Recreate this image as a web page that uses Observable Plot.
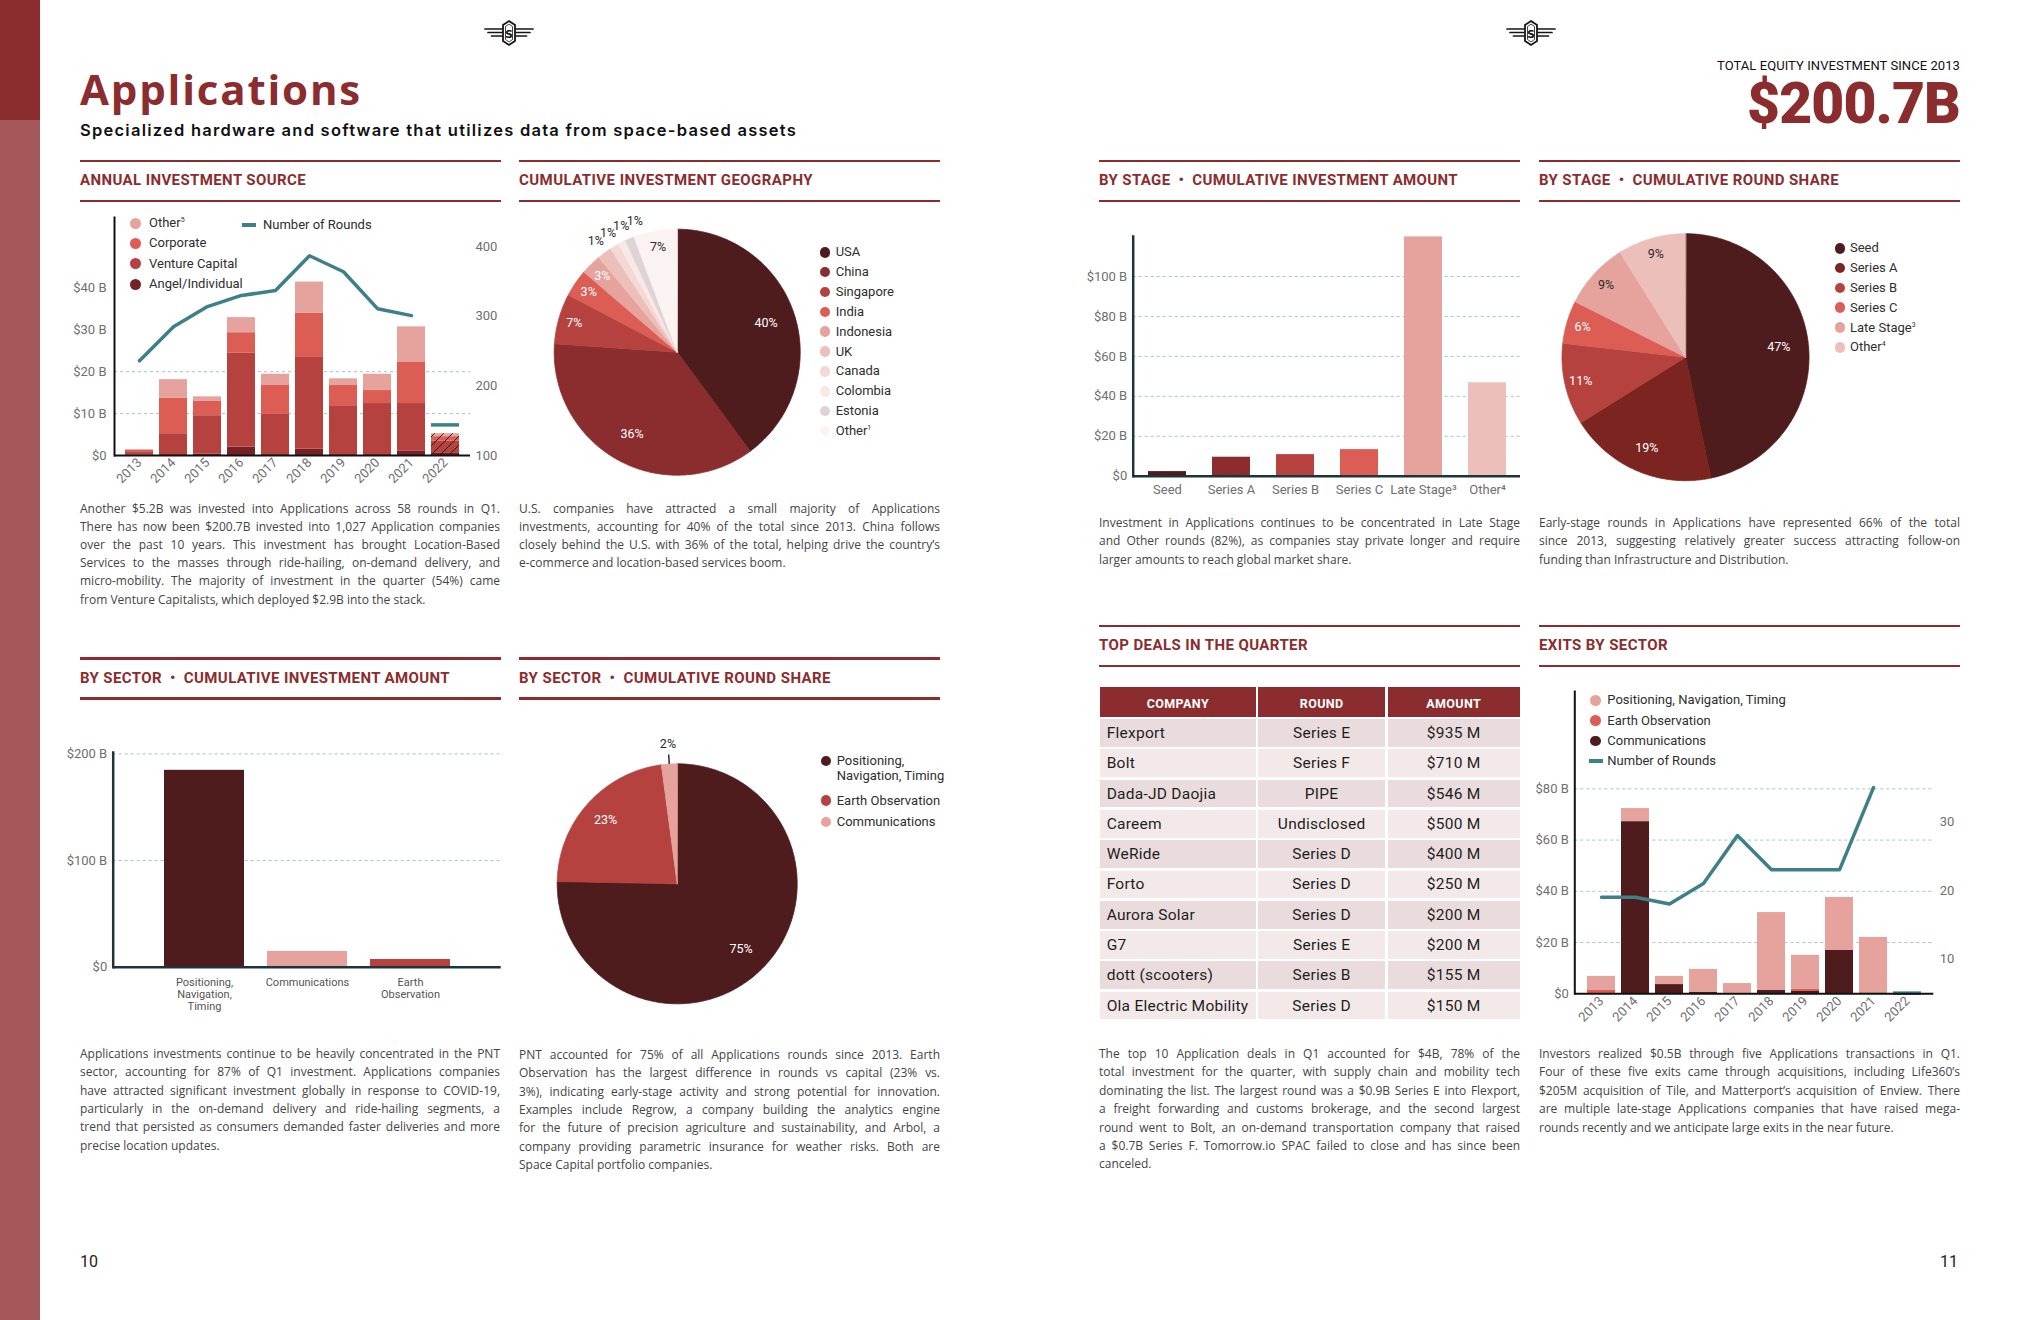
<!DOCTYPE html>
<html><head><meta charset="utf-8">
<script src="https://cdn.jsdelivr.net/npm/d3@7"></script>
<script src="https://cdn.jsdelivr.net/npm/@observablehq/plot@0.6"></script>
<style>
html,body{margin:0;padding:0;background:#fff;}
#page{position:relative;width:2040px;height:1320px;overflow:hidden;font-family:Roboto,sans-serif;background:#fff;}
#page svg{overflow:visible;}
</style></head>
<body><div id="page"></div>
<script>
// ---------------- DATA ----------------
const years = ["2013","2014","2015","2016","2017","2018","2019","2020","2021","2022"];
const partialYear = "2022";
const sourceKeys = ["Angel/Individual","Venture Capital","Corporate","Other"];
const angelInvest =     [0.1, 0.2, 0.3, 2.0, 0.2, 1.5, 0.2, 0.2, 1.0, 0.5];
const ventureInvest =   [0.6, 5.0, 9.2, 22.4, 9.6, 21.9, 11.5, 12.2, 11.4, 2.9];
const corporateInvest = [0.5, 8.5, 3.4, 4.9, 6.9, 10.6, 5.0, 3.1, 9.8, 1.1];
const otherInvest =     [0.2, 4.4, 1.1, 3.6, 2.7, 7.4, 1.6, 3.9, 8.5, 0.7];
const investRounds =    [236, 285, 314, 330, 337, 387, 364, 311, 301, 144];

const geoCountries = ["USA","China","Singapore","India","Indonesia","UK","Canada","Colombia","Estonia","Other"];
const geoShare =     [39.9, 36.2, 6.6, 3.6, 2.7, 1.9, 1.2, 1.0, 1.2, 5.7];
const geoLabels =    ["40%","36%","7%","3%","3%","1%","1%","1%","1%","7%"];

const stages = ["Seed","Series A","Series B","Series C","Late Stage","Other"];
const stageTickLabels = ["Seed","Series A","Series B","Series C","Late Stage³","Other⁴"];
const stageAmount = [2.3, 9.5, 10.8, 13.3, 119.8, 46.8];
const stageRoundShare = [46.7, 19.4, 10.7, 5.6, 8.7, 8.9];
const stageRoundLabels = ["47%","19%","11%","6%","9%","9%"];

const sectors = ["Positioning, Navigation, Timing","Communications","Earth Observation"];
const sectorTickLabels = ["Positioning,\nNavigation,\nTiming","Communications","Earth\nObservation"];
const sectorAmount = [184.6, 14.8, 7.2];
const roundSectors = ["Positioning, Navigation, Timing","Earth Observation","Communications"];
const roundSectorShare = [75.3, 22.6, 2.1];
const roundSectorLabels = ["75%","23%","2%"];

const dealCompanies = ["Flexport","Bolt","Dada-JD Daojia","Careem","WeRide","Forto","Aurora Solar","G7","dott (scooters)","Ola Electric Mobility"];
const dealRounds = ["Series E","Series F","PIPE","Undisclosed","Series D","Series D","Series D","Series E","Series B","Series D"];
const dealAmounts = ["$935 M","$710 M","$546 M","$500 M","$400 M","$250 M","$200 M","$200 M","$155 M","$150 M"];

const exitKeys = ["Communications","Earth Observation","Positioning, Navigation, Timing"];
const exitComm = [0, 67.2, 3.6, 0.5, 0.2, 1.3, 0.9, 16.9, 0.3, 0];
const exitEO   = [1.5, 0, 0, 0, 0, 0, 0.8, 0, 0, 0];
const exitPNT  = [5.3, 5.1, 3.2, 9.0, 3.8, 30.4, 13.3, 20.7, 21.7, 0.5];
const exitRounds = [19, 19, 18, 21, 28, 23, 23, 23, 35, 5];

// ---------------- STYLE ----------------
const RED = "#8b2c2e", TEAL = "#3e7f88", GRID = "#a9c3c6", AXIS = "#1d3439";
const C_DARK = "#4e1c1c", C_A = "#8b2c2e", C_B = "#b5423f", C_C = "#dc5d54", C_L = "#e6a29c", C_O = "#edbfba";
const axisStyle = {fontFamily:"Roboto, sans-serif", fontSize:"13px", color:"#6f6f6f", background:"transparent", overflow:"visible"};
const fmtB = d => d === 0 ? "$0" : `$${d} B`;

const page = document.getElementById("page");
function el(css, html){ const e = document.createElement("div"); e.style.cssText = "position:absolute;" + css; if (html != null) e.innerHTML = html; page.appendChild(e); return e; }
function place(svg, left, top, w, h){ const d = el(`left:${left}px;top:${top}px;width:${w}px;height:${h}px;`); d.appendChild(svg); return d; }
function fit(e, target){ e.style.letterSpacing = "0px"; const w = e.getBoundingClientRect().width; const n = [...e.textContent].length; e.style.letterSpacing = ((target - w) / n) + "px"; }

// ---------------- PAGE FURNITURE ----------------
el(`left:0;top:0;width:40px;height:120px;background:${RED}`);
el(`left:0;top:120px;width:40px;height:1200px;background:#a55859`);

const logo = `<svg width="52" height="26" viewBox="0 0 52 26"><g stroke="#151515" stroke-width="1.7" stroke-linecap="round">
<line x1="2" y1="9" x2="19" y2="9"/><line x1="5" y1="12.5" x2="19" y2="12.5"/><line x1="8.5" y1="16" x2="19" y2="16"/>
<line x1="33" y1="9" x2="50" y2="9"/><line x1="33" y1="12.5" x2="47" y2="12.5"/><line x1="33" y1="16" x2="43.5" y2="16"/></g>
<path d="M26 1 L32 5 L32 21 L26 25 L20 21 L20 5 Z" fill="#fff" stroke="#151515" stroke-width="1.8"/>
<path d="M26 4 L29.5 6.5 L29.5 19.5 L26 22 L22.5 19.5 L22.5 6.5 Z" fill="none" stroke="#151515" stroke-width="0.8"/>
<text x="26" y="17.5" text-anchor="middle" font-family="DejaVu Sans" font-weight="700" font-size="11" fill="#151515">S</text></svg>`;
el(`left:483px;top:20px;`, logo);
el(`left:1505px;top:20px;`, logo);

const title = el(`left:80px;top:60px;line-height:42px;white-space:nowrap;font:700 42px 'Open Sans';color:${RED}`, "Applications");
fit(title, 282);
const sub = el(`left:80px;top:120px;line-height:20px;white-space:nowrap;font:600 16.5px Inter;color:#111`, "Specialized hardware and software that utilizes data from space-based assets");
fit(sub, 717);
const tot = el(`right:80px;top:58px;line-height:16px;white-space:nowrap;font:400 13px Roboto;color:#111`, "TOTAL EQUITY INVESTMENT SINCE 2013");
fit(tot, 243);
const big = el(`right:80px;top:70px;line-height:57px;white-space:nowrap;font:900 57px Roboto;color:${RED}`, "$200.7B");
fit(big, 213);

function header(x, y, text, target){
  el(`left:${x}px;top:${y}px;width:421px;height:2.5px;background:${RED}`);
  const t = el(`left:${x}px;top:${y + 11.5}px;line-height:20px;white-space:nowrap;font:700 15px Roboto;color:${RED}`);
  t.textContent = text; fit(t, target);
  el(`left:${x}px;top:${y + 40}px;width:421px;height:2.5px;background:${RED}`);
}
header(80, 159.5, "ANNUAL INVESTMENT SOURCE", 226);
header(519, 159.5, "CUMULATIVE INVESTMENT GEOGRAPHY", 294);
header(1099, 159.5, "BY STAGE\u2002•\u2002CUMULATIVE INVESTMENT AMOUNT", 359);
header(1539, 159.5, "BY STAGE\u2002•\u2002CUMULATIVE ROUND SHARE", 300);
header(80, 657, "BY SECTOR\u2002•\u2002CUMULATIVE INVESTMENT AMOUNT", 370);
header(519, 657, "BY SECTOR\u2002•\u2002CUMULATIVE ROUND SHARE", 312);
header(1099, 624.5, "TOP DEALS IN THE QUARTER", 209);
header(1539, 624.5, "EXITS BY SECTOR", 129);

function para(lines, x, y, w, lh){
  lines.forEach((t, i) => {
    const last = i === lines.length - 1;
    const d = el(`left:${x}px;top:${y + i * lh}px;height:${lh}px;line-height:${lh}px;white-space:nowrap;font:400 12px 'Open Sans';color:#444`);
    d.textContent = t;
    const nat = d.getBoundingClientRect().width;
    if (nat > w - 2) d.style.letterSpacing = ((w - 2 - nat) / t.length) + "px";
    if (!last){ d.style.width = w + "px"; d.style.textAlign = "justify"; d.style.textAlignLast = "justify"; }
  });
}
para(["Another $5.2B was invested into Applications across 58 rounds in Q1.",
"There has now been $200.7B invested into 1,027 Application companies",
"over the past 10 years. This investment has brought Location-Based",
"Services to the masses through ride-hailing, on-demand delivery, and",
"micro-mobility. The majority of investment in the quarter (54%) came",
"from Venture Capitalists, which deployed $2.9B into the stack."], 80, 499.6, 420, 18.2);
para(["U.S. companies have attracted a small majority of Applications",
"investments, accounting for 40% of the total since 2013. China follows",
"closely behind the U.S. with 36% of the total, helping drive the country’s",
"e-commerce and location-based services boom."], 519, 499.6, 421, 18.2);
para(["Investment in Applications continues to be concentrated in Late Stage",
"and Other rounds (82%), as companies stay private longer and require",
"larger amounts to reach global market share."], 1099, 514, 421, 18.4);
para(["Early-stage rounds in Applications have represented 66% of the total",
"since 2013, suggesting relatively greater success attracting follow-on",
"funding than Infrastructure and Distribution."], 1539, 514, 421, 18.4);
para(["Applications investments continue to be heavily concentrated in the PNT",
"sector, accounting for 87% of Q1 investment. Applications companies",
"have attracted significant investment globally in response to COVID-19,",
"particularly in the on-demand delivery and ride-hailing segments, a",
"trend that persisted as consumers demanded faster deliveries and more",
"precise location updates."], 80, 1045, 420, 18.3);
para(["PNT accounted for 75% of all Applications rounds since 2013. Earth",
"Observation has the largest difference in rounds vs capital (23% vs.",
"3%), indicating early-stage activity and strong potential for innovation.",
"Examples include Regrow, a company building the analytics engine",
"for the future of precision agriculture and sustainability, and Arbol, a",
"company providing parametric insurance for weather risks. Both are",
"Space Capital portfolio companies."], 519, 1046, 421, 18.3);
para(["The top 10 Application deals in Q1 accounted for $4B, 78% of the",
"total investment for the quarter, with supply chain and mobility tech",
"dominating the list. The largest round was a $0.9B Series E into Flexport,",
"a freight forwarding and customs brokerage, and the second largest",
"round went to Bolt, an on-demand transportation company that raised",
"a $0.7B Series F. Tomorrow.io SPAC failed to close and has since been",
"canceled."], 1099, 1045, 421, 18.4);
para(["Investors realized $0.5B through five Applications transactions in Q1.",
"Four of these five exits came through acquisitions, including Life360’s",
"$205M acquisition of Tile, and Matterport’s acquisition of Enview. There",
"are multiple late-stage Applications companies that have raised mega-",
"rounds recently and we anticipate large exits in the near future."], 1539, 1045, 421, 18.4);

el(`left:80px;top:1252px;line-height:20px;font:400 16px Roboto;color:#222`, "10");
el(`right:82px;top:1252px;line-height:20px;font:400 16px Roboto;color:#222`, "11");

function legend(items, dotX, y0, step, dx, r){
  let y = y0;
  items.forEach(it => {
    if (it.kind === "line") el(`left:${dotX - 7}px;top:${y - 2}px;width:14px;height:4px;background:${it.color}`);
    else el(`left:${dotX - r}px;top:${y - r}px;width:${2 * r}px;height:${2 * r}px;border-radius:50%;background:${it.color}`);
    el(`left:${dotX + dx}px;top:${y - 8}px;line-height:16.3px;white-space:pre;font:400 13px Roboto;color:#2e2e2e`, it.label);
    y += step + ((it.label.match(/\n/g) || []).length) * 18;
  });
}

// ---------------- CHART 1: annual investment source ----------------
{
  const srcColors = ["#742226", "#b5423f", "#dc5d54", "#e6a29c"];
  const series = [angelInvest, ventureInvest, corporateInvest, otherInvest];
  const rows = years.flatMap((yr, i) => series.map((s, j) => ({year: yr, source: sourceKeys[j], value: s[i]})));
  const totals = years.map((yr, i) => ({year: yr, total: d3.sum(series, s => s[i])}));
  const roundRows = years.map((yr, i) => ({year: yr, rounds: investRounds[i]}));
  const yTop = 56.8, rLo = 100, rHi = 442;
  const toLeft = r => (r - rLo) * yTop / (rHi - rLo);
  const svg = Plot.plot({
    width: 460, height: 300, marginLeft: 54, marginRight: 50, marginTop: 12, marginBottom: 50,
    style: axisStyle,
    x: {type: "band", domain: years, paddingInner: 0.18, paddingOuter: 0.3, label: null},
    y: {domain: [0, yTop], label: null},
    color: {domain: sourceKeys, range: srcColors},
    marks: [
      Plot.ruleY([10, 20], {stroke: GRID, strokeDasharray: "3,3"}),
      Plot.ruleY([30, 40], {x1: "2017", stroke: GRID, strokeDasharray: "3,3"}),
      Plot.barY(rows, {x: "year", y: "value", fill: "source"}),
      Plot.barY(totals.filter(d => d.year === partialYear), {x: "year", y1: 0, y2: "total", fill: "url(#hatch1)"}),
      Plot.line(roundRows.filter(d => d.year !== partialYear), {x: "year", y: d => toLeft(d.rounds), stroke: TEAL, strokeWidth: 3.5}),
      Plot.tickY(roundRows.filter(d => d.year === partialYear), {x: "year", y: d => toLeft(d.rounds), stroke: TEAL, strokeWidth: 3.5}),
      Plot.axisY([0, 10, 20, 30, 40], {anchor: "left", tickSize: 0, tickPadding: 8, tickFormat: fmtB, label: null}),
      Plot.axisY([100, 200, 300, 400].map(toLeft), {anchor: "right", tickSize: 0, tickPadding: 5, tickFormat: d => Math.round(d * (rHi - rLo) / yTop + rLo), label: null}),
      Plot.axisX({tickRotate: -45, tickSize: 0, tickPadding: 5, label: null}),
      Plot.ruleY([0], {stroke: "#111", strokeWidth: 2}),
      Plot.frame({anchor: "left", stroke: "#111", strokeWidth: 2})
    ]
  });
  d3.select(svg).insert("defs", ":first-child").html('<pattern id="hatch1" patternUnits="userSpaceOnUse" width="9" height="9"><path d="M-1,1 l2,-2 M0,9 l9,-9 M8,10 l2,-2" stroke="#1a1a1a" stroke-width="0.9"/></pattern>');
  place(svg, 60, 205, 460, 300);
  legend([{label: "Other<sup style='font-size:7px'>5</sup>", color: srcColors[3]},
          {label: "Corporate", color: srcColors[2]},
          {label: "Venture Capital", color: srcColors[1]},
          {label: "Angel/Individual", color: srcColors[0]}], 135, 223, 20.4, 14, 5.5);
  legend([{label: "Number of Rounds", color: TEAL, kind: "line"}], 249, 225, 20, 14, 5);
}

// ---------------- PIE helper ----------------
function pie(o){
  const total = d3.sum(o.values);
  const slices = [], pts = [];
  let acc = 0;
  o.keys.forEach((k, i) => {
    const a0 = acc / total * 2 * Math.PI; acc += o.values[i]; const a1 = acc / total * 2 * Math.PI;
    const n = Math.max(2, Math.ceil((a1 - a0) / 0.01));
    pts.push({key: k, x: 0, y: 0});
    for (let s = 0; s <= n; s++){ const a = a0 + (a1 - a0) * s / n; pts.push({key: k, x: Math.sin(a), y: Math.cos(a)}); }
    slices.push({key: k, i, pct: o.values[i] / total * 100, mid: (a0 + a1) / 2, label: o.labels[i]});
  });
  let prev = -Infinity; const gap = 6.1 * Math.PI / 180;
  slices.forEach(s => {
    if (s.pct < 2.5){ s.out = true; s.la = Math.max(s.mid, prev + gap); prev = s.la; s.lr = o.outR; }
    else { s.la = s.mid; s.lr = s.pct >= 30 ? 0.76 : s.pct >= 15 ? 0.8 : 0.87; }
    s.lx = s.lr * Math.sin(s.la); s.ly = s.lr * Math.cos(s.la);
    s.white = !s.out && s.i < o.whiteCount;
  });
  const marks = [Plot.line(pts, {x: "x", y: "y", z: "key", fill: "key", stroke: "key", strokeWidth: 0.8, curve: "linear-closed"})];
  if (o.leader) marks.push(Plot.link(slices.filter(s => s.out), {
    x1: s => Math.sin(s.la), y1: s => Math.cos(s.la), x2: s => 1.08 * Math.sin(s.la), y2: s => 1.08 * Math.cos(s.la), stroke: AXIS, strokeWidth: 1.5}));
  marks.push(Plot.text(slices.filter(s => s.white), {x: "lx", y: "ly", text: "label", fill: "#fff"}));
  marks.push(Plot.text(slices.filter(s => !s.white), {x: "lx", y: "ly", text: "label", fill: "#2b2b2b"}));
  return Plot.plot({
    width: o.w, height: o.h, margin: 0,
    x: {domain: [-1, 1], range: [o.cx - o.r, o.cx + o.r], axis: null},
    y: {domain: [-1, 1], range: [o.cy + o.r, o.cy - o.r], axis: null},
    color: {domain: o.keys, range: o.colors},
    style: {fontFamily: "Roboto, sans-serif", fontSize: "12.5px", background: "transparent", overflow: "visible"},
    marks
  });
}

// ---------------- CHART 2: geography pie ----------------
{
  const geoColors = ["#4e1c1c", "#8b2c2e", "#b5423f", "#dc5d54", "#e6a29c", "#edbfba", "#f4d8d6", "#f8e8e7", "#e0d3d5", "#fbf3f2"];
  place(pie({keys: geoCountries, values: geoShare, labels: geoLabels, colors: geoColors, w: 300, h: 290, cx: 156.7, cy: 141.7, r: 123, outR: 1.12, whiteCount: 5}), 520, 210, 300, 290);
  legend(geoCountries.map((k, i) => ({label: k === "Other" ? "Other<sup style='font-size:7px'>1</sup>" : k, color: geoColors[i]})), 825, 252.3, 19.85, 10.7, 5.3);
}

// ---------------- CHART 3: by stage amount ----------------
{
  const stageColors = [C_DARK, C_A, C_B, C_C, C_L, C_O];
  const rows = stages.map((s, i) => ({stage: s, amount: stageAmount[i]}));
  const svg = Plot.plot({
    width: 440, height: 290, marginLeft: 42.7, marginRight: 10, marginTop: 16, marginBottom: 34.3,
    style: axisStyle,
    x: {type: "band", domain: stages, paddingInner: 0.414, paddingOuter: 0.23, label: null},
    y: {domain: [0, 120], label: null},
    color: {domain: stages, range: stageColors},
    marks: [
      Plot.ruleY([20, 40, 60, 80, 100], {stroke: GRID, strokeDasharray: "3,3"}),
      Plot.barY(rows, {x: "stage", y: "amount", fill: "stage"}),
      Plot.axisY([0, 20, 40, 60, 80, 100], {tickSize: 0, tickPadding: 6, tickFormat: fmtB, label: null}),
      Plot.axisX({tickSize: 0, tickPadding: 9, tickFormat: d => stageTickLabels[stages.indexOf(d)], label: null}),
      Plot.ruleY([0], {stroke: AXIS, strokeWidth: 2.5}),
      Plot.frame({anchor: "left", stroke: AXIS, strokeWidth: 2.5})
    ]
  });
  place(svg, 1090, 220, 440, 290);
}

// ---------------- CHART 4: by stage round share pie ----------------
{
  const colors = [C_DARK, "#7b2420", C_B, C_C, C_L, C_O];
  place(pie({keys: stages, values: stageRoundShare, labels: stageRoundLabels, colors, w: 300, h: 290, cx: 145, cy: 141.7, r: 123.5, outR: 1.12, whiteCount: 4}), 1540, 215, 300, 290);
  legend(stages.map((k, i) => ({label: k === "Late Stage" ? "Late Stage<sup style='font-size:7px'>3</sup>" : k === "Other" ? "Other<sup style='font-size:7px'>4</sup>" : k, color: colors[i]})), 1840, 248.3, 19.8, 10, 5.3);
}

// ---------------- CHART 5: by sector amount ----------------
{
  const colors = [C_DARK, C_L, C_B];
  const rows = sectors.map((s, i) => ({sector: s, amount: sectorAmount[i]}));
  const svg = Plot.plot({
    width: 460, height: 280, marginLeft: 52.7, marginRight: 19.3, marginTop: 12, marginBottom: 53.3,
    style: axisStyle,
    x: {type: "band", domain: sectors, paddingInner: 0.22, paddingOuter: 0.48, label: null},
    y: {domain: [0, 201.3], label: null},
    color: {domain: sectors, range: colors},
    marks: [
      Plot.ruleY([100, 200], {stroke: GRID, strokeDasharray: "3,3"}),
      Plot.barY(rows, {x: "sector", y: "amount", fill: "sector"}),
      Plot.axisY([0, 100, 200], {tickSize: 0, tickPadding: 6, tickFormat: fmtB, label: null}),
      Plot.axisX({tickSize: 0, tickPadding: 10, fontSize: 11, lineHeight: 1.1, fill: "#555", tickFormat: d => sectorTickLabels[sectors.indexOf(d)], label: null}),
      Plot.ruleY([0], {stroke: AXIS, strokeWidth: 2.5}),
      Plot.frame({anchor: "left", stroke: AXIS, strokeWidth: 2.5})
    ]
  });
  place(svg, 60, 740, 460, 280);
}

// ---------------- CHART 6: by sector round share pie ----------------
{
  const colors = [C_DARK, C_B, C_L];
  place(pie({keys: roundSectors, values: roundSectorShare, labels: roundSectorLabels, colors, w: 300, h: 300, cx: 156.7, cy: 153.3, r: 120, outR: 1.17, whiteCount: 2, leader: true}), 520, 730, 300, 300);
  legend([{label: "Positioning,\nNavigation, Timing", color: colors[0]},
          {label: "Earth Observation", color: colors[1]},
          {label: "Communications", color: colors[2]}], 826, 761, 21.6, 10.7, 5.3);
}

// ---------------- TABLE: top deals ----------------
{
  const tbl = el(`left:1100px;top:687.3px;width:420px;display:grid;grid-template-columns:155.7px 126.7px 132.3px;column-gap:2.6px;row-gap:2.6px;grid-template-rows:29.3px repeat(10,27.7px);font-family:Roboto`);
  ["COMPANY", "ROUND", "AMOUNT"].forEach(h => {
    const c = document.createElement("div");
    c.style.cssText = `background:${RED};color:#fff;font:700 12.5px Roboto;letter-spacing:0.4px;display:flex;align-items:center;justify-content:center;padding-top:3px;box-sizing:border-box`;
    c.textContent = h; tbl.appendChild(c);
  });
  dealCompanies.forEach((co, i) => {
    const bg = i % 2 === 0 ? "#eadcdd" : "#f3e9e9";
    [co, dealRounds[i], dealAmounts[i]].forEach((v, j) => {
      const c = document.createElement("div");
      c.style.cssText = `background:${bg};color:#1e1e1e;font:400 15.5px Roboto;letter-spacing:0.25px;display:flex;align-items:center;justify-content:${j === 0 ? "flex-start" : "center"};padding-left:${j === 0 ? 6.7 : 0}px;white-space:nowrap`;
      c.textContent = v; tbl.appendChild(c);
    });
  });
}

// ---------------- CHART 8: exits by sector ----------------
{
  const colors = [C_DARK, C_C, C_L];
  const series = [exitComm, exitEO, exitPNT];
  const rows = years.flatMap((yr, i) => series.map((s, j) => ({year: yr, sector: exitKeys[j], value: s[i]})));
  const roundRows = years.map((yr, i) => ({year: yr, rounds: exitRounds[i]}));
  const yTop = 118, rLo = 4.9, rHi = 49.03;
  const toLeft = r => (r - rLo) * yTop / (rHi - rLo);
  const svg = Plot.plot({
    width: 460, height: 360, marginLeft: 44.3, marginRight: 56.7, marginTop: 11, marginBottom: 46.7,
    style: axisStyle,
    x: {type: "band", domain: years, paddingInner: 0.175, paddingOuter: 0.3, label: null},
    y: {domain: [0, yTop], label: null},
    color: {domain: exitKeys, range: colors},
    marks: [
      Plot.ruleY([20, 40, 60, 80], {stroke: GRID, strokeDasharray: "3,3"}),
      Plot.barY(rows, {x: "year", y: "value", fill: "sector"}),
      Plot.line(roundRows.filter(d => d.year !== partialYear), {x: "year", y: d => toLeft(d.rounds), stroke: TEAL, strokeWidth: 3.5}),
      Plot.tickY(roundRows.filter(d => d.year === partialYear), {x: "year", y: d => toLeft(d.rounds), stroke: TEAL, strokeWidth: 3.5}),
      Plot.axisY([0, 20, 40, 60, 80], {anchor: "left", tickSize: 0, tickPadding: 6, tickFormat: fmtB, label: null}),
      Plot.axisY([10, 20, 30].map(toLeft), {anchor: "right", tickSize: 0, tickPadding: 6, tickFormat: d => Math.round(d * (rHi - rLo) / yTop + rLo), label: null}),
      Plot.axisX({tickRotate: -45, tickSize: 0, tickPadding: 5, label: null}),
      Plot.ruleY([0], {stroke: "#111", strokeWidth: 2}),
      Plot.frame({anchor: "left", stroke: "#111", strokeWidth: 2})
    ]
  });
  place(svg, 1530, 680, 460, 360);
  legend([{label: "Positioning, Navigation, Timing", color: colors[2]},
          {label: "Earth Observation", color: colors[1]},
          {label: "Communications", color: colors[0]},
          {label: "Number of Rounds", color: TEAL, kind: "line"}], 1595.7, 700.3, 20.3, 11.6, 5.3);
}
</script>
</body></html>
